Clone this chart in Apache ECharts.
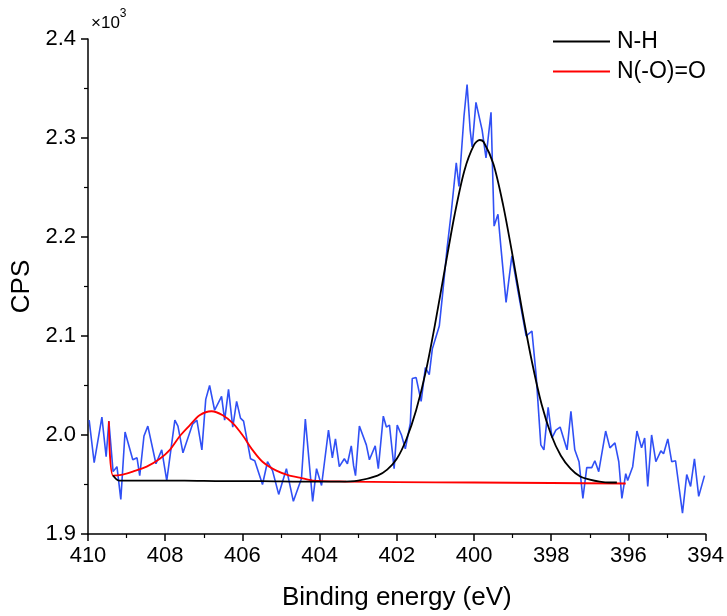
<!DOCTYPE html>
<html>
<head>
<meta charset="utf-8">
<script src="https://cdn.jsdelivr.net/npm/echarts@6/dist/echarts.min.js"></script>
<style>html,body{margin:0;padding:0;background:#fff}#c{width:727px;height:616px}</style>
</head>
<body>
<div id="c"></div>
<script>
// Binding energy (eV) and counts (CPS) of the measured spectrum
const rawEnergy = [409.97,409.84,409.64,409.53,409.46,409.35,409.25,409.15,409.04,408.84,408.73,408.66,408.55,408.45,408.24,408.09,407.96,407.75,407.67,407.54,407.29,407.18,407.05,406.95,406.85,406.72,406.54,406.46,406.36,406.25,406.15,406.05,405.97,405.79,405.68,405.48,405.35,405.22,405.06,404.86,404.68,404.47,404.37,404.18,404.08,403.95,403.77,403.67,403.59,403.49,403.36,403.28,403.18,403.12,403.07,402.97,402.79,402.71,402.56,402.48,402.35,402.27,402.19,402.07,401.99,401.88,401.78,401.65,401.60,401.50,401.37,401.26,401.16,401.08,400.90,400.82,400.70,400.59,400.46,400.39,400.26,400.18,400.10,400.05,399.95,399.79,399.69,399.56,399.48,399.38,399.30,399.17,399.02,398.86,398.65,398.50,398.39,398.27,398.19,398.08,397.98,397.88,397.77,397.59,397.49,397.39,397.28,397.18,397.08,396.95,396.87,396.77,396.59,396.48,396.35,396.25,396.17,396.07,396.02,395.89,395.78,395.66,395.58,395.50,395.40,395.29,395.16,395.09,394.98,394.88,394.78,394.60,394.49,394.39,394.29,394.18,394.03];
const rawCps = [2015,1972,2018,1978,2014,1963,1968,1935,2003,1975,1977,1959,1999,2009,1971,1985,1954,2015,2009,1982,2011,2015,1985,2036,2050,2025,2039,2015,2046,2008,2034,2017,2014,1976,1974,1950,1973,1964,1940,1966,1933,1956,2016,1933,1966,1949,2005,1977,1996,1968,1976,1971,1989,1969,1959,2009,1990,1975,1989,1966,2019,2008,2010,1966,2010,2000,1986,2012,2057,2058,2034,2068,2061,2087,2110,2140,2188,2225,2275,2251,2322,2354,2308,2291,2336,2308,2280,2326,2211,2223,2188,2134,2181,2145,2100,2105,2060,1990,1985,2028,1997,2005,2008,1985,2024,1985,1973,1936,1967,1967,1974,1963,2004,1987,1992,1973,1936,1961,1954,1968,2004,1987,1997,1948,2000,1973,1984,1981,1996,1973,1974,1921,1960,1948,1976,1938,1959];

// N-H fitted component
const nhEnergy = [409.35,409.20,408.50,407.50,406.50,405.50,404.50,403.50,403.00,402.50,402.25,402.00,401.75,401.50,401.25,401.00,400.75,400.50,400.25,400.00,399.85,399.75,399.50,399.25,399.00,398.75,398.50,398.25,398.00,397.75,397.50,397.25,397.00,396.75,396.50,396.30];
const nhCps = [1959,1954,1954,1954,1953.5,1953.5,1953,1953,1954,1959,1965,1976,1996,2025,2064,2114,2169,2223,2267,2293,2298,2296,2274,2233,2181,2125,2074,2031,2000,1979,1966,1958,1955,1953,1952,1952];

// N(-O)=O fitted component
const noEnergy = [409.46,409.35,409.10,408.84,408.48,408.14,407.88,407.62,407.36,407.11,406.80,406.51,406.25,406.00,405.74,405.48,405.12,404.78,404.52,404.18,403.31,402.00,400.00,398.00,396.07];
const noCps = [2014,1959,1960,1963,1968,1976,1985,1999,2010,2020,2024,2020,2012,2000,1985,1973,1964,1959,1957,1954,1953,1952.5,1952,1951.5,1951];

const xTicks = [410,408,406,404,402,400,398,396,394];
const yTicks = [1900,2000,2100,2200,2300,2400];

const zip = (a, b) => a.map((v, i) => [v, b[i]]);

const chart = echarts.init(document.getElementById('c'), null, {renderer: 'canvas'});
const font = 'Liberation Sans, Arial, sans-serif';
chart.setOption({
  animation: false,
  backgroundColor: '#fff',
  grid: {left: 88, right: 20, top: 39, bottom: 80, containLabel: false},
  legend: {
    data: ['N-H', 'N(-O)=O'],
    orient: 'vertical',
    left: 548, top: 25,
    itemWidth: 57, itemHeight: 2, itemGap: 7,
    icon: 'rect',
    textStyle: {fontFamily: font, fontSize: 23, color: '#000', padding: [0,0,0,2]}
  },
  graphic: [{
    type: 'text', left: 91, top: 8,
    style: {
      text: '{a|×10}{b|3}', fontFamily: font,
      rich: {
        a: {fontSize: 17, fontFamily: font, fill: '#000', color: '#000', verticalAlign: 'bottom', lineHeight: 24},
        b: {fontSize: 12, fontFamily: font, fill: '#000', color: '#000', verticalAlign: 'top', lineHeight: 24}
      }
    }
  }],
  xAxis: {
    type: 'value', min: 394, max: 410, interval: 2, inverse: true,
    name: 'Binding energy (eV)', nameLocation: 'middle', nameGap: 51,
    nameTextStyle: {fontFamily: font, fontSize: 26, color: '#000'},
    axisLine: {show: true, onZero: false, lineStyle: {color: '#000', width: 1.5}},
    axisTick: {show: true, inside: false, length: 7, lineStyle: {color: '#000', width: 1.5}},
    minorTick: {show: true, splitNumber: 2, length: 4, lineStyle: {color: '#000', width: 1.2}},
    axisLabel: {fontFamily: font, fontSize: 22, color: '#000', margin: 11,
      formatter: v => xTicks.includes(v) ? String(v) : ''},
    splitLine: {show: false}
  },
  yAxis: {
    type: 'value', min: 1900, max: 2400, interval: 100,
    name: 'CPS', nameLocation: 'middle', nameGap: 53, nameRotate: 90,
    nameTextStyle: {fontFamily: font, fontSize: 26, color: '#000'},
    axisLine: {show: true, onZero: false, lineStyle: {color: '#000', width: 1.5}},
    axisTick: {show: true, inside: false, length: 7, lineStyle: {color: '#000', width: 1.5}},
    minorTick: {show: true, splitNumber: 2, length: 4, lineStyle: {color: '#000', width: 1.2}},
    axisLabel: {fontFamily: font, fontSize: 22, color: '#000', margin: 12,
      formatter: v => yTicks.includes(v) ? (v / 1000).toFixed(1) : ''},
    splitLine: {show: false}
  },
  series: [
    {name: 'raw', type: 'line', data: zip(rawEnergy, rawCps), showSymbol: false, symbol: 'none',
     lineStyle: {color: '#3050f5', width: 1.6}, itemStyle: {color: '#3050f5'}, z: 2},
    {name: 'N(-O)=O', type: 'line', data: zip(noEnergy, noCps), showSymbol: false, symbol: 'none', smooth: 0.3,
     lineStyle: {color: '#ff0000', width: 1.8}, itemStyle: {color: '#ff0000'}, z: 3},
    {name: 'N-H', type: 'line', data: zip(nhEnergy, nhCps), showSymbol: false, symbol: 'none', smooth: 0.3,
     lineStyle: {color: '#000', width: 1.8}, itemStyle: {color: '#000'}, z: 4}
  ]
});
</script>
</body>
</html>
